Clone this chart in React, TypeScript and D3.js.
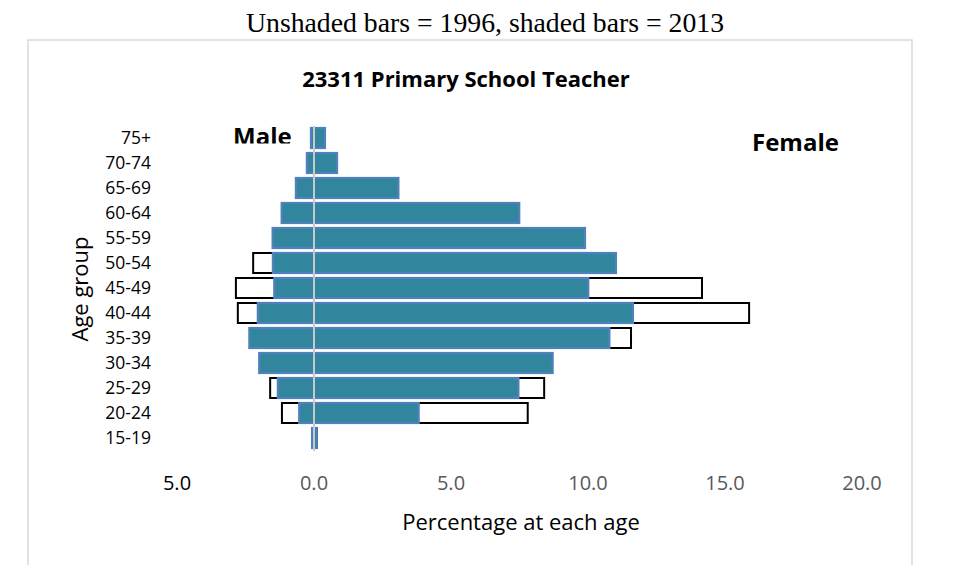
import * as d3 from "d3";
import React, { useEffect, useRef } from "react";

// age groups, bottom to top
const ageGroups = ["15-19", "20-24", "25-29", "30-34", "35-39", "40-44", "45-49", "50-54", "55-59", "60-64", "65-69", "70-74", "75+"];

// percentage at each age (shaded = 2013)
const male2013 = [0.07, 0.54, 1.32, 2.0, 2.36, 2.05, 1.45, 1.5, 1.51, 1.18, 0.66, 0.26, 0.11];
const female2013 = [0.1, 3.82, 7.46, 8.71, 10.78, 11.64, 10.01, 11.02, 9.89, 7.49, 3.08, 0.84, 0.4];

// unshaded = 1996
const male1996 = [0.05, 1.17, 1.6, 1.8, 2.2, 2.78, 2.85, 2.22, 1.2, 0.6, 0.2, 0.1, 0.0];
const female1996 = [0.1, 7.8, 8.4, 8.0, 11.57, 15.88, 14.16, 8.9, 5.8, 2.2, 0.8, 0.2, 0.1];

const xTicks = [-5, 0, 5, 10, 15, 20];

const sans = "'Open Sans', sans-serif";

function drawPyramid(svgEl: SVGSVGElement) {
    const svg = d3.select(svgEl);
    svg.selectAll("*").remove();

    const x = d3.scaleLinear().domain([-5, 20]).range([177, 862]);
    const y = d3.scaleBand<string>()
        .domain(ageGroups.slice().reverse())
        .range([125.5, 450.5])
        .paddingInner(0.2)
        .paddingOuter(0.1);

    // header above the frame
    svg.append("text")
        .attr("x", 485).attr("y", 32)
        .attr("text-anchor", "middle")
        .attr("textLength", 478)
        .attr("lengthAdjust", "spacingAndGlyphs")
        .style("font-family", "'Liberation Serif', serif")
        .style("font-size", "27px")
        .attr("fill", "#000")
        .text("Unshaded bars = 1996, shaded bars = 2013");

    // chart frame
    svg.append("rect")
        .attr("x", 28).attr("y", 40)
        .attr("width", 884).attr("height", 540)
        .attr("fill", "#fff")
        .attr("stroke", "#d9d9d9")
        .attr("stroke-width", 1.5);

    svg.append("text")
        .attr("x", 466).attr("y", 87)
        .attr("text-anchor", "middle")
        .style("font-family", sans)
        .style("font-size", "22px")
        .style("font-weight", "bold")
        .text("23311 Primary School Teacher");

    // Male label is cut off at the bottom in the original
    svg.append("clipPath").attr("id", "maleClip")
        .append("rect").attr("x", 200).attr("y", 100).attr("width", 120).attr("height", 43.5);
    svg.append("text")
        .attr("x", 233).attr("y", 145)
        .attr("clip-path", "url(#maleClip)")
        .style("font-family", sans)
        .style("font-size", "24px")
        .style("font-weight", "bold")
        .text("Male");

    svg.append("text")
        .attr("x", 752).attr("y", 151)
        .style("font-family", sans)
        .style("font-size", "24px")
        .style("font-weight", "bold")
        .text("Female");

    let bars = svg.append("g");

    // 1996 bars behind
    ageGroups.forEach(function (a, i) {
        bars.append("rect")
            .attr("x", x(-male1996[i])).attr("y", y(a)!)
            .attr("width", x(0) - x(-male1996[i])).attr("height", y.bandwidth())
            .attr("fill", "#fff").attr("stroke", "#000").attr("stroke-width", 2);
        bars.append("rect")
            .attr("x", x(0)).attr("y", y(a)!)
            .attr("width", x(female1996[i]) - x(0)).attr("height", y.bandwidth())
            .attr("fill", "#fff").attr("stroke", "#000").attr("stroke-width", 2);
    });

    // 2013 bars in front
    ageGroups.forEach(function (a, i) {
        bars.append("rect")
            .attr("x", x(-male2013[i])).attr("y", y(a)!)
            .attr("width", x(female2013[i]) - x(-male2013[i])).attr("height", y.bandwidth())
            .attr("fill", "#31859c").attr("stroke", "#4f81bd").attr("stroke-width", 2.2);
    });

    // zero line
    svg.append("line")
        .attr("x1", x(0)).attr("x2", x(0))
        .attr("y1", 126).attr("y2", 451)
        .attr("stroke", "#c9c9c9").attr("stroke-width", 2);

    // age labels
    svg.append("g").selectAll("text")
        .data(ageGroups)
        .join("text")
        .attr("x", 151)
        .attr("y", d => y(d)! + y.bandwidth() / 2)
        .attr("dy", "0.35em")
        .attr("text-anchor", "end")
        .style("font-family", sans)
        .style("font-size", "17.5px")
        .attr("fill", "#000")
        .text(d => d);

    // x tick labels, negative side shown as positive
    svg.append("g").selectAll("text")
        .data(xTicks)
        .join("text")
        .attr("x", d => x(d))
        .attr("y", 483)
        .attr("dy", "0.35em")
        .attr("text-anchor", "middle")
        .style("font-family", sans)
        .style("font-size", "20px")
        .attr("fill", d => d < 0 ? "#000" : "#595959")
        .text(d => d3.format(".1f")(Math.abs(d)));

    svg.append("text")
        .attr("x", 521).attr("y", 522)
        .attr("dy", "0.35em")
        .attr("text-anchor", "middle")
        .style("font-family", sans)
        .style("font-size", "22px")
        .text("Percentage at each age");

    svg.append("text")
        .attr("transform", "translate(80,289) rotate(-90)")
        .attr("dy", "0.35em")
        .attr("text-anchor", "middle")
        .style("font-family", sans)
        .style("font-size", "22px")
        .text("Age group");
}

export default function App() {
    const svg = useRef<SVGSVGElement>(null);

    useEffect(() => {
        document.body.style.margin = "0";
        if (svg.current) drawPyramid(svg.current);
    }, []);

    return <svg ref={svg} width={963} height={565} style={{ display: "block", background: "#fff" }}></svg>;
}
